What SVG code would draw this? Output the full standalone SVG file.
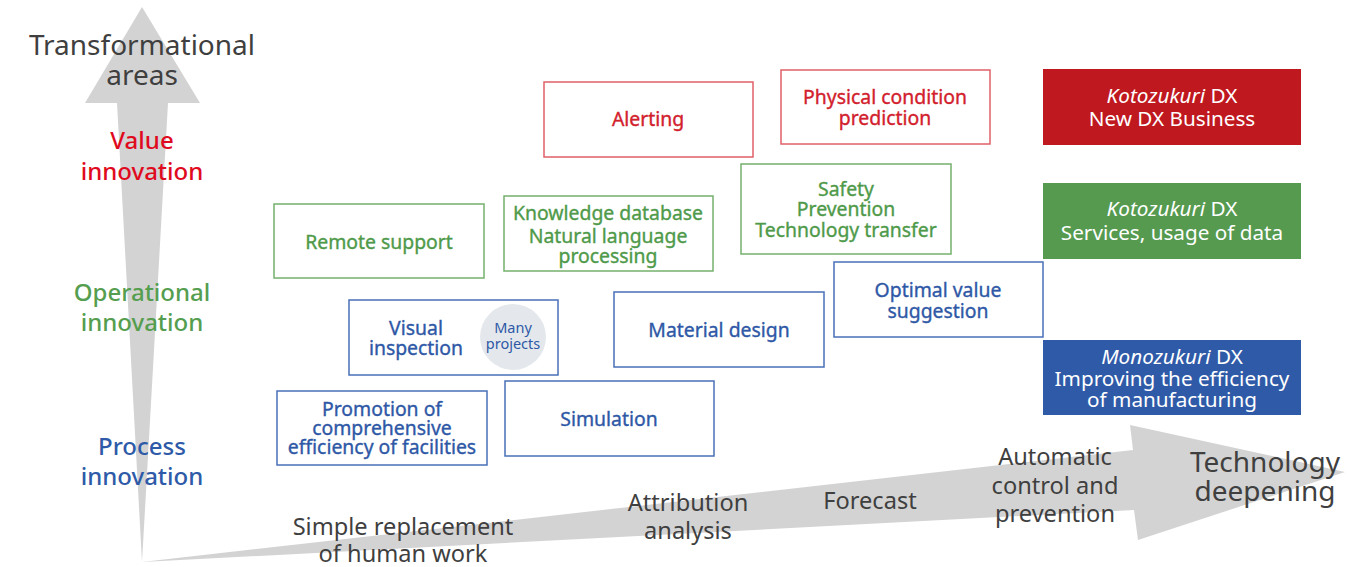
<svg xmlns="http://www.w3.org/2000/svg" width="1348" height="567" viewBox="0 0 1348 567">
<style>
text{font-family:"Noto Sans","Open Sans",sans-serif;text-anchor:middle}
.ax{fill:#d3d3d3}
.lab{font-size:23.6px;fill:#3f3f3f}
.big{font-size:28px;fill:#3f3f3f}
.cat{font-size:24px;font-weight:500}
.r{fill:#e00a1e}.g{fill:#559e4f}.b{fill:#2e5aa8}
.bt{font-size:19.4px;stroke-width:0.35px}
.rt{fill:#d2202c;stroke:#d2202c}.gt{fill:#4f9a4a;stroke:#4f9a4a}.blt{fill:#2e58a6;stroke:#2e58a6}
.rb{fill:#fff;stroke:#e06068;stroke-width:1.5}
.gb{fill:#fff;stroke:#74b06c;stroke-width:1.5}
.bb{fill:#fff;stroke:#4a70b8;stroke-width:1.5}
.wt{font-size:20.7px;fill:#fff}
.mp{font-size:14.5px;stroke:none}
</style>
<g id="axes">
<polygon class="ax" points="142,7 200,103 168,103 142,562 117,103 85,103"/>
<polygon class="ax" points="142,562 1133,450 1130,425 1345,472 1138,540 1134,510"/>
</g>
<g id="axis-labels">
<text class="big" x="142" y="55">Transformational</text>
<text class="big" x="142" y="85">areas</text>
<text class="cat r" x="142" y="149">Value</text>
<text class="cat r" x="142" y="180">innovation</text>
<text class="cat g" x="142" y="301">Operational</text>
<text class="cat g" x="142" y="331">innovation</text>
<text class="cat b" x="142" y="455">Process</text>
<text class="cat b" x="142" y="485">innovation</text>
<text class="lab" x="403" y="535">Simple replacement</text>
<text class="lab" x="403" y="562">of human work</text>
<text class="lab" x="688" y="511">Attribution</text>
<text class="lab" x="688" y="539">analysis</text>
<text class="lab" x="870" y="509">Forecast</text>
<text class="lab" x="1055" y="465">Automatic</text>
<text class="lab" x="1055" y="494">control and</text>
<text class="lab" x="1055" y="522">prevention</text>
<text class="big" x="1265" y="472">Technology</text>
<text class="big" x="1265" y="501">deepening</text>
</g>
<g id="alerting">
<rect class="rb" x="544" y="82" width="209" height="75"/>
<text class="bt rt" x="648" y="126">Alerting</text>
</g>
<g id="physical-condition">
<rect class="rb" x="781" y="70" width="209" height="74"/>
<text class="bt rt" x="885" y="104">Physical condition</text>
<text class="bt rt" x="885" y="125">prediction</text>
</g>
<g id="remote-support">
<rect class="gb" x="274" y="204" width="210" height="74"/>
<text class="bt gt" x="379" y="249">Remote support</text>
</g>
<g id="knowledge-db">
<rect class="gb" x="504" y="196" width="209" height="75"/>
<text class="bt gt" x="608" y="220">Knowledge database</text>
<text class="bt gt" x="608" y="243">Natural language</text>
<text class="bt gt" x="608" y="263">processing</text>
</g>
<g id="safety">
<rect class="gb" x="741" y="164" width="210" height="90"/>
<text class="bt gt" x="846" y="196">Safety</text>
<text class="bt gt" x="846" y="216">Prevention</text>
<text class="bt gt" x="846" y="237">Technology transfer</text>
</g>
<g id="optimal-value">
<rect class="bb" x="834" y="262" width="209" height="75"/>
<text class="bt blt" x="938" y="297">Optimal value</text>
<text class="bt blt" x="938" y="318">suggestion</text>
</g>
<g id="visual-inspection">
<rect class="bb" x="349" y="300" width="209" height="75"/>
<text class="bt blt" x="416" y="335">Visual</text>
<text class="bt blt" x="416" y="355">inspection</text>
<circle cx="513" cy="337" r="33" fill="#e4e8ec"/>
<text class="blt mp" x="513" y="333">Many</text>
<text class="blt mp" x="513" y="349">projects</text>
</g>
<g id="material-design">
<rect class="bb" x="614" y="292" width="210" height="75"/>
<text class="bt blt" x="719" y="337">Material design</text>
</g>
<g id="promotion">
<rect class="bb" x="277" y="391" width="210" height="74"/>
<text class="bt blt" x="382" y="416">Promotion of</text>
<text class="bt blt" x="382" y="435">comprehensive</text>
<text class="bt blt" x="382" y="454">efficiency of facilities</text>
</g>
<g id="simulation">
<rect class="bb" x="505" y="381" width="209" height="75"/>
<text class="bt blt" x="609" y="426">Simulation</text>
</g>
<g id="kotozukuri-new">
<rect x="1043" y="69" width="258" height="76" fill="#c0181f"/>
<text class="wt" x="1172" y="103"><tspan font-style="italic">Kotozukuri</tspan> DX</text>
<text class="wt" x="1172" y="126">New DX Business</text>
</g>
<g id="kotozukuri-services">
<rect x="1043" y="183" width="258" height="76" fill="#559a4f"/>
<text class="wt" x="1172" y="216"><tspan font-style="italic">Kotozukuri</tspan> DX</text>
<text class="wt" x="1172" y="240">Services, usage of data</text>
</g>
<g id="monozukuri">
<rect x="1043" y="340" width="258" height="75" fill="#2f5aa8"/>
<text class="wt" x="1172" y="364"><tspan font-style="italic">Monozukuri</tspan> DX</text>
<text class="wt" x="1172" y="386">Improving the efficiency</text>
<text class="wt" x="1172" y="407">of manufacturing</text>
</g>
</svg>
